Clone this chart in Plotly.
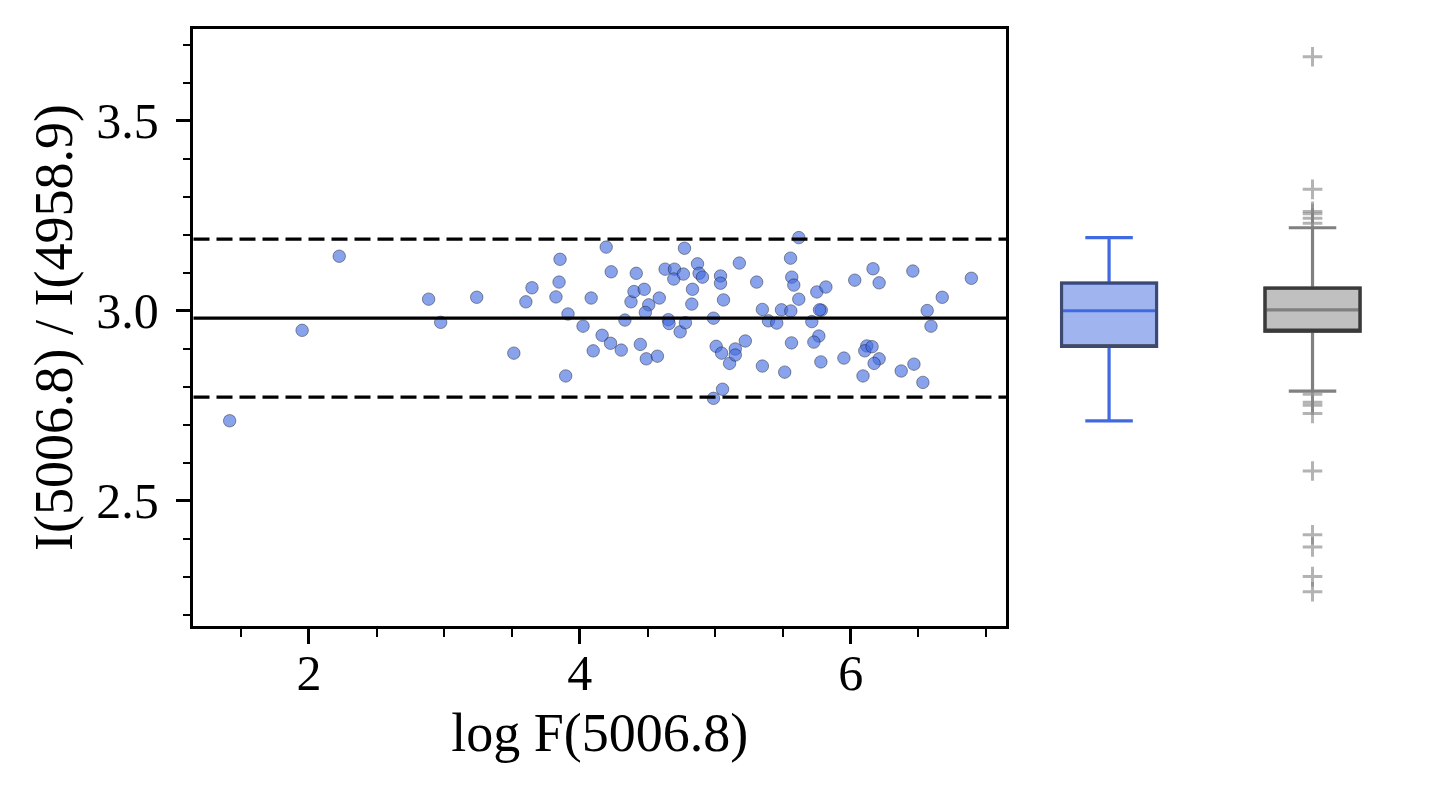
import numpy as np
import plotly.graph_objects as go

# scatter: log F(5006.8) vs I(5006.8)/I(4958.9)
log_flux = [1.415, 1.950, 2.224, 2.884, 2.973, 3.239, 3.513, 3.602, 3.647, 3.854,
            3.847, 3.824, 3.913, 3.896, 4.024, 4.084, 4.099, 4.165, 4.195, 4.232,
            4.227, 4.306, 4.333, 4.378, 4.400, 4.417, 4.476, 4.509, 4.484, 4.447,
            4.491, 4.573, 4.587, 4.630, 4.699, 4.694, 4.765, 4.773, 4.654, 4.659,
            4.741, 4.780, 4.832, 4.827, 4.869, 4.881, 4.906, 4.987, 4.987, 5.054,
            5.007, 5.047, 5.106, 5.039, 5.039, 5.061, 5.178, 5.148, 5.148, 5.617,
            5.556, 5.306, 5.565, 5.580, 5.617, 5.750, 5.817, 6.030, 6.165, 6.210,
            6.459, 6.891, 6.676, 6.565, 6.593, 5.348, 5.489, 5.558, 5.783, 5.770,
            5.393, 5.454, 5.713, 5.222, 5.563, 5.765, 5.728, 5.348, 5.513, 5.780,
            5.950, 6.119, 6.104, 6.158, 6.210, 6.173, 6.091, 6.373, 6.467, 6.533]
ratio = [2.711, 2.949, 3.144, 3.031, 2.970, 3.036, 2.889, 3.024, 3.061, 3.136,
         3.076, 3.037, 2.992, 2.829, 2.960, 3.034, 2.895, 2.936, 3.168, 3.103,
         2.915, 2.897, 2.976, 3.024, 3.051, 3.099, 3.057, 3.016, 2.996, 2.912,
         2.874, 2.881, 3.034, 3.110, 3.110, 3.084, 3.097, 3.165, 2.977, 2.967,
         2.945, 2.969, 3.057, 3.018, 3.124, 3.099, 3.089, 2.981, 2.770, 2.794,
         2.907, 2.889, 2.862, 3.092, 3.073, 3.029, 3.126, 2.900, 2.884, 3.193,
         3.139, 3.076, 3.089, 3.068, 3.031, 3.050, 3.063, 3.081, 3.111, 3.074,
         3.105, 3.086, 3.036, 3.001, 2.960, 3.004, 3.003, 3.000, 3.002, 3.003,
         2.974, 2.968, 2.972, 2.921, 2.916, 2.934, 2.918, 2.855, 2.839, 2.866,
         2.876, 2.908, 2.895, 2.906, 2.874, 2.862, 2.829, 2.842, 2.860, 2.812]

# reference lines: mean and the +/- band
ref_mean = 2.981
ref_band = [3.189, 2.773]

# comparison sample, given as box statistics plus its outliers
cmp_q1 = 2.947
cmp_median = 3.003
cmp_q3 = 3.060
cmp_low = 2.789
cmp_high = 3.219
cmp_outliers = [3.669, 3.320, 3.262, 3.256, 3.244, 3.231,
                2.781, 2.760, 2.752, 2.730, 2.579, 2.411, 2.379, 2.301, 2.261]

BLUE = "royalblue"
FONT = "Liberation Serif"

r = np.array(ratio)
b_q1, b_med, b_q3 = np.percentile(r, [25, 50, 75])
b_lo, b_hi = r.min(), r.max()

fig = go.Figure()

fig.add_trace(go.Scatter(
    x=log_flux, y=ratio, mode="markers",
    marker=dict(size=12.5, color="rgba(65,105,225,0.62)",
                line=dict(color="rgba(0,0,0,0.55)", width=0.7)),
    showlegend=False))

for yv in ref_band:
    fig.add_hline(y=yv, line=dict(color="black", width=3.2, dash="16px,7px"))
fig.add_hline(y=ref_mean, line=dict(color="black", width=3.2))

BOX_W = 0.467

# blue box: whiskers/median in blue, then grey outline on top
fig.add_trace(go.Box(
    x=[0.5], q1=[b_q1], median=[b_med], q3=[b_q3],
    lowerfence=[b_lo], upperfence=[b_hi], width=BOX_W, whiskerwidth=0.5,
    fillcolor="rgba(65,105,225,0.5)", line=dict(color=BLUE, width=3.2),
    xaxis="x2", yaxis="y2", showlegend=False, hoverinfo="skip"))
fig.add_trace(go.Box(
    x=[0.5], q1=[b_q1], median=[b_q1], q3=[b_q3],
    lowerfence=[b_q1], upperfence=[b_q3], width=BOX_W, whiskerwidth=0,
    fillcolor="rgba(0,0,0,0)", line=dict(color="rgba(60,60,60,0.7)", width=3),
    xaxis="x2", yaxis="y2", showlegend=False, hoverinfo="skip"))

# grey box
fig.add_trace(go.Box(
    x=[1.5], q1=[cmp_q1], median=[cmp_median], q3=[cmp_q3],
    lowerfence=[cmp_low], upperfence=[cmp_high], width=BOX_W, whiskerwidth=0.5,
    fillcolor="#c0c0c0", line=dict(color="#808080", width=3.2),
    xaxis="x2", yaxis="y2", showlegend=False, hoverinfo="skip"))
fig.add_trace(go.Box(
    x=[1.5], q1=[cmp_q1], median=[cmp_q1], q3=[cmp_q3],
    lowerfence=[cmp_q1], upperfence=[cmp_q3], width=BOX_W, whiskerwidth=0,
    fillcolor="rgba(0,0,0,0)", line=dict(color="#3a3a3a", width=3.3),
    xaxis="x2", yaxis="y2", showlegend=False, hoverinfo="skip"))
fig.add_trace(go.Scatter(
    x=[1.5] * len(cmp_outliers), y=cmp_outliers, mode="markers",
    marker=dict(symbol="cross-thin", size=14,
                line=dict(color="rgba(128,128,128,0.6)", width=3)),
    xaxis="x2", yaxis="y2", showlegend=False, hoverinfo="skip"))

YR = [2.171, 3.742]

fig.update_layout(
    width=1444, height=794,
    margin=dict(l=0, r=0, t=0, b=0),
    paper_bgcolor="white", plot_bgcolor="white",
    boxmode="overlay",
    font=dict(family=FONT, size=45, color="black"),
    xaxis=dict(domain=[0.134, 0.6967], range=[1.148, 7.147],
               tick0=0, dtick=2, ticks="outside", ticklen=15, tickwidth=2.5,
               tickcolor="black", showgrid=False, zeroline=False,
               showline=True, linecolor="black", linewidth=2.7, mirror=True,
               tickfont=dict(size=50), ticklabelstandoff=-14,
               minor=dict(dtick=0.5, ticks="outside", ticklen=8, tickwidth=2,
                          tickcolor="black"),
               title=dict(text="log F(5006.8)", standoff=14)),
    yaxis=dict(domain=[0.2116, 0.9635], range=YR,
               tick0=2.5, dtick=0.5, tickformat=".1f", ticks="outside",
               ticklen=15, tickwidth=2.5, tickcolor="black", showgrid=False,
               zeroline=False, showline=True, linecolor="black", linewidth=2.7,
               mirror=True, tickfont=dict(size=50), ticklabelstandoff=7,
               minor=dict(dtick=0.1, ticks="outside", ticklen=8, tickwidth=2,
                          tickcolor="black"),
               title=dict(text="I(5006.8) / I(4958.9)", standoff=7)),
    xaxis2=dict(domain=[0.6976, 0.9794], range=[0, 2], visible=False),
    yaxis2=dict(domain=[0.2116, 0.9635], range=YR, visible=False,
                anchor="x2"),
)

fig.write_html("out.html", config={"displayModeBar": False},
               post_script="document.body.style.margin='0px';")
